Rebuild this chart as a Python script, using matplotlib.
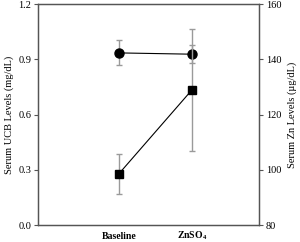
import matplotlib
matplotlib.use("Agg")
import matplotlib.pyplot as plt

categories = ["Baseline", "ZnSO$_4$"]
ucb_mean = [0.935, 0.928]
ucb_err = [0.068, 0.049]
zn_mean = [98.6, 128.9]
zn_err = [7.3, 22.1]

plt.rcParams['font.family'] = ['Liberation Serif', 'DejaVu Serif']
plt.rcParams['mathtext.fontset'] = 'custom'
plt.rcParams['mathtext.rm'] = 'Liberation Serif:bold'
plt.rcParams['mathtext.it'] = 'Liberation Serif:bold'
plt.rcParams['mathtext.bf'] = 'Liberation Serif:bold'
fig = plt.figure(figsize=(3.0, 2.42), dpi=100)
ax = fig.add_axes([0.127, 0.070, 0.736, 0.913])
ax2 = ax.twinx()

x = [1, 2]
spc = '#555555'
for a in (ax, ax2):
    for s in a.spines.values():
        s.set_color(spc)
        s.set_linewidth(0.9)

ax.errorbar(x, ucb_mean, yerr=ucb_err, fmt='none', ecolor='#9a9a9a',
            elinewidth=1.0, capsize=2.5, capthick=1.0, zorder=2)
ax.plot(x, ucb_mean, color='black', lw=0.8, marker='o', ms=6.5, zorder=3)

ax2.errorbar(x, zn_mean, yerr=zn_err, fmt='none', ecolor='#9a9a9a',
             elinewidth=1.0, capsize=2.5, capthick=1.0, zorder=2)
ax2.plot(x, zn_mean, color='black', lw=0.8, marker='s', ms=5.5, zorder=3)

ax.set_xlim(-0.11, 2.92)
ax.set_ylim(0, 1.2)
ax.set_yticks([0.0, 0.3, 0.6, 0.9, 1.2])
ax.set_yticklabels(['0.0', '0.3', '0.6', '0.9', '1.2'])
ax2.set_ylim(80, 160)
ax2.set_yticks([80, 100, 120, 140, 160])

ax.set_xticks(x)
ax.set_xticklabels(categories, fontweight='bold', fontsize=7)
for lab in ax.get_xticklabels():
    lab.set_verticalalignment('baseline')
ax.tick_params(axis='x', length=0, pad=9.8)
ax.tick_params(axis='y', length=3, width=0.8, color=spc, labelsize=7.5, pad=2)
ax2.tick_params(axis='y', length=3, width=0.8, color=spc, labelsize=7.5, pad=2)

ax.set_ylabel('Serum UCB Levels (mg/dL)', fontsize=7.5, labelpad=3)
ax2.set_ylabel('Serum Zn Levels (µg/dL)', fontsize=7.5, labelpad=4)

fig.savefig('out.png', dpi=100)
